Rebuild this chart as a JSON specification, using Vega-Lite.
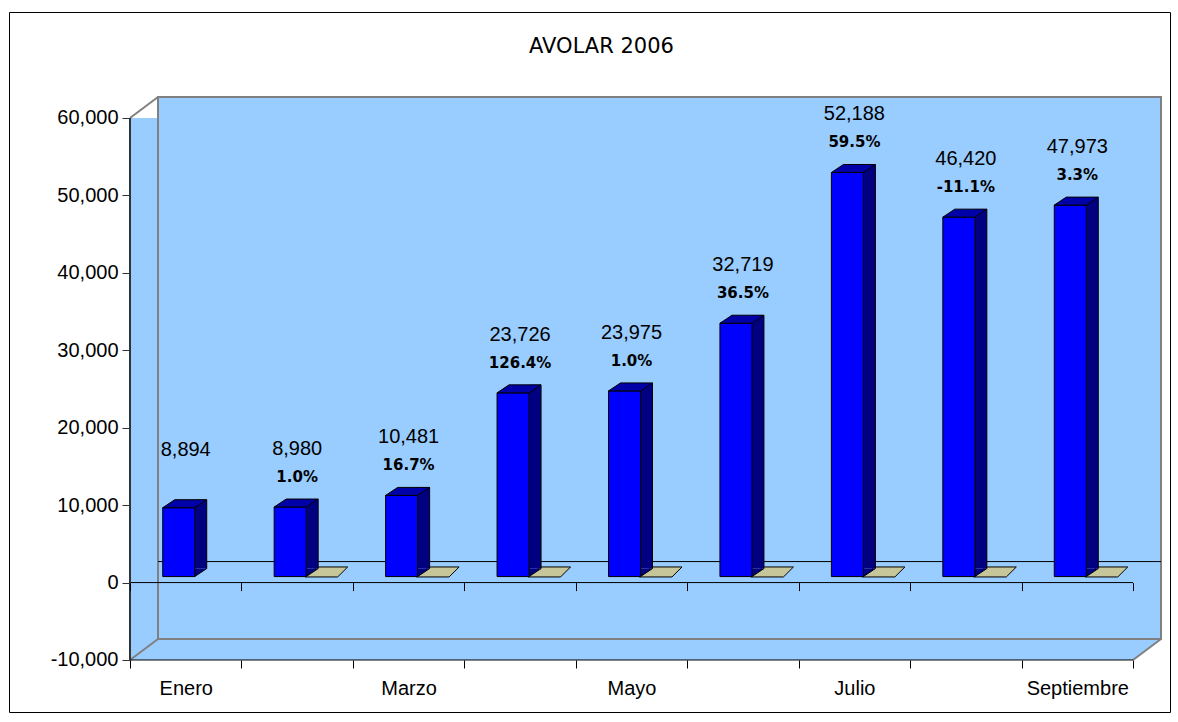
{
  "$schema": "https://vega.github.io/schema/vega-lite/v6.json",
  "width": 1161,
  "height": 700,
  "autosize": {"type": "none"},
  "padding": {"left": 9, "top": 12, "right": 8, "bottom": 10},
  "background": "#ffffff",
  "config": {
    "view": {"stroke": "#000000", "strokeWidth": 1},
    "locale": {"number": {"decimal": ".", "thousands": ",", "grouping": [3], "currency": ["$", ""], "minus": "-"}}
  },
  "title": {"text": "AVOLAR 2006", "anchor": "middle", "frame": "group", "offset": -56, "baseline": "middle", "font": "DejaVu Sans", "fontSize": 21, "fontWeight": "normal", "color": "#000000", "dx": 12},
  "data": {
    "values": [
      {"i": 1, "mes": "Enero", "v": 8894, "pct": null},
      {"i": 2, "mes": "Febrero", "v": 8980, "pct": 0.010},
      {"i": 3, "mes": "Marzo", "v": 10481, "pct": 0.167},
      {"i": 4, "mes": "Abril", "v": 23726, "pct": 1.264},
      {"i": 5, "mes": "Mayo", "v": 23975, "pct": 0.010},
      {"i": 6, "mes": "Junio", "v": 32719, "pct": 0.365},
      {"i": 7, "mes": "Julio", "v": 52188, "pct": 0.595},
      {"i": 8, "mes": "Agosto", "v": 46420, "pct": -0.111},
      {"i": 9, "mes": "Septiembre", "v": 47973, "pct": 0.033}
    ]
  },
  "resolve": {"axis": {"x": "independent", "y": "independent"}},
  "layer": [
    {
      "data": {"values": [{}]},
      "mark": {"type": "rect", "fill": "#99CCFF", "strokeWidth": 0},
      "encoding": {
        "x": {"datum": 0.5, "type": "quantitative", "scale": {"domain": [-0.5858, 9.832], "nice": false, "zero": false}, "axis": null},
        "x2": {"datum": 9.5},
        "y": {"datum": -10000, "type": "quantitative", "scale": {"domain": [-16716, 73690], "nice": false, "zero": false}, "axis": null},
        "y2": {"datum": 60000}
      }
    },
    {
      "data": {"values": [{}]},
      "mark": {"type": "point", "shape": "M 0 0 L 2 -1.5 L 0 -1.5 Z", "size": 784, "filled": true, "fill": "#99CCFF", "opacity": 1, "strokeWidth": 0},
      "encoding": {
        "x": {"datum": 9.5, "type": "quantitative", "scale": {"domain": [-0.5858, 9.832], "nice": false, "zero": false}, "axis": null},
        "y": {"datum": -10000, "type": "quantitative", "scale": {"domain": [-16716, 73690], "nice": false, "zero": false}, "axis": null}
      }
    },
    {
      "data": {"values": [{}]},
      "mark": {"type": "rect", "fill": "#99CCFF", "stroke": "#808080", "strokeWidth": 2, "xOffset": 28, "x2Offset": 28, "yOffset": -21, "y2Offset": -21},
      "encoding": {
        "x": {"datum": 0.5, "type": "quantitative", "scale": {"domain": [-0.5858, 9.832], "nice": false, "zero": false}, "axis": null},
        "x2": {"datum": 9.5},
        "y": {"datum": -10000, "type": "quantitative", "scale": {"domain": [-16716, 73690], "nice": false, "zero": false}, "axis": null},
        "y2": {"datum": 60000}
      }
    },
    {
      "data": {"values": [{}]},
      "mark": {"type": "rule", "stroke": "#808080", "strokeWidth": 2, "x2Offset": 28, "y2Offset": -21},
      "encoding": {
        "x": {"datum": 0.5, "type": "quantitative", "scale": {"domain": [-0.5858, 9.832], "nice": false, "zero": false}, "axis": null},
        "x2": {"datum": 0.5},
        "y": {"datum": 60000, "type": "quantitative", "scale": {"domain": [-16716, 73690], "nice": false, "zero": false}, "axis": null},
        "y2": {"datum": 60000}
      }
    },
    {
      "data": {"values": [{}]},
      "mark": {"type": "rule", "stroke": "#808080", "strokeWidth": 2, "x2Offset": 28, "y2Offset": -21},
      "encoding": {
        "x": {"datum": 0.5, "type": "quantitative", "scale": {"domain": [-0.5858, 9.832], "nice": false, "zero": false}, "axis": null},
        "x2": {"datum": 0.5},
        "y": {"datum": -10000, "type": "quantitative", "scale": {"domain": [-16716, 73690], "nice": false, "zero": false}, "axis": null},
        "y2": {"datum": -10000}
      }
    },
    {
      "data": {"values": [{}]},
      "mark": {"type": "rule", "stroke": "#808080", "strokeWidth": 2, "x2Offset": 28, "y2Offset": -21},
      "encoding": {
        "x": {"datum": 9.5, "type": "quantitative", "scale": {"domain": [-0.5858, 9.832], "nice": false, "zero": false}, "axis": null},
        "x2": {"datum": 9.5},
        "y": {"datum": -10000, "type": "quantitative", "scale": {"domain": [-16716, 73690], "nice": false, "zero": false}, "axis": null},
        "y2": {"datum": -10000}
      }
    },
    {
      "data": {"values": [{}]},
      "mark": {"type": "rule", "stroke": "#000000", "strokeWidth": 1, "xOffset": 28, "x2Offset": 28, "yOffset": -21},
      "encoding": {
        "x": {"datum": 0.5, "type": "quantitative", "scale": {"domain": [-0.5858, 9.832], "nice": false, "zero": false}, "axis": null},
        "x2": {"datum": 9.5},
        "y": {"datum": 0, "type": "quantitative", "scale": {"domain": [-16716, 73690], "nice": false, "zero": false}, "axis": null}
      }
    },
    {
      "data": {"values": [{}]},
      "mark": {"type": "rule", "stroke": "#000000", "strokeWidth": 1},
      "encoding": {
        "x": {"datum": 0.5, "type": "quantitative", "scale": {"domain": [-0.5858, 9.832], "nice": false, "zero": false}, "axis": null},
        "x2": {"datum": 9.5},
        "y": {"datum": 0, "type": "quantitative", "scale": {"domain": [-16716, 73690], "nice": false, "zero": false}, "axis": null}
      }
    },
    {
      "data": {"values": [{}]},
      "mark": {"type": "rule", "stroke": "#000000", "strokeWidth": 1},
      "encoding": {
        "x": {"datum": 0.5, "type": "quantitative", "scale": {"domain": [-0.5858, 9.832], "nice": false, "zero": false}, "axis": null},
        "x2": {"datum": 9.5},
        "y": {"datum": -10000, "type": "quantitative", "scale": {"domain": [-16716, 73690], "nice": false, "zero": false}, "axis": null}
      }
    },
    {
      "data": {"values": [{}]},
      "mark": {"type": "rule", "stroke": "#333333", "strokeWidth": 2},
      "encoding": {
        "x": {"datum": 0.5, "type": "quantitative", "scale": {"domain": [-0.5858, 9.832], "nice": false, "zero": false}, "axis": null},
        "y": {"datum": -10000, "type": "quantitative", "scale": {"domain": [-16716, 73690], "nice": false, "zero": false}, "axis": null},
        "y2": {"datum": 60000}
      }
    },
    {
      "transform": [{"filter": "isValid(datum.pct)"}],
      "mark": {"type": "point", "shape": "M -1 0.235 L 0.529 0.235 L 1 -0.235 L -0.435 -0.235 Z", "size": 1806, "filled": true, "fill": "#C6C69A", "stroke": "#000000", "strokeWidth": 1, "opacity": 1, "xOffset": 29.25, "yOffset": -10.6},
      "encoding": {
        "x": {"field": "i", "type": "quantitative", "scale": {"domain": [-0.5858, 9.832], "nice": false, "zero": false}, "axis": null},
        "y": {"field": "pct", "type": "quantitative", "scale": {"domain": [-16716, 73690], "nice": false, "zero": false}, "axis": null}
      }
    },
    {
      "mark": {"type": "rect", "fill": "#000080", "strokeWidth": 0, "xOffset": 9, "x2Offset": 21, "yOffset": -14, "y2Offset": -14},
      "encoding": {
        "x": {"field": "i", "type": "quantitative", "scale": {"domain": [-0.5858, 9.832], "nice": false, "zero": false},
          "axis": {"orient": "bottom", "offset": -129.4, "zindex": 1, "values": [0.5, 1.5, 2.5, 3.5, 4.5, 5.5, 6.5, 7.5, 8.5, 9.5], "labels": false, "domain": false, "grid": false, "tickSize": 8, "tickColor": "#000000", "tickWidth": 1, "title": null}},
        "x2": {"field": "i"},
        "y": {"field": "v", "type": "quantitative", "scale": {"domain": [-16716, 73690], "nice": false, "zero": false},
          "axis": {"orient": "left", "offset": -121, "zindex": 1, "values": [-10000, 0, 10000, 20000, 30000, 40000, 50000, 60000], "format": ",.0f", "title": null, "domain": false, "grid": false, "tickSize": 8, "tickColor": "#333333", "tickWidth": 1, "labelFont": "Liberation Sans", "labelFontSize": 20, "labelColor": "#000000", "labelPadding": 4}},
        "y2": {"datum": 0}
      }
    },
    {
      "mark": {"type": "point", "shape": "M -1 -0.667 L -1 0.667 L 1 -0.667", "size": 144, "filled": true, "fill": "#000080", "stroke": "#000000", "strokeWidth": 1, "opacity": 1, "xOffset": 15, "yOffset": -10},
      "encoding": {
        "x": {"field": "i", "type": "quantitative", "scale": {"domain": [-0.5858, 9.832], "nice": false, "zero": false}, "axis": null},
        "y": {"datum": 0, "type": "quantitative", "scale": {"domain": [-16716, 73690], "nice": false, "zero": false}, "axis": null}
      }
    },
    {
      "mark": {"type": "rule", "stroke": "#000000", "strokeWidth": 1, "xOffset": 21, "yOffset": -14, "y2Offset": -14},
      "encoding": {
        "x": {"field": "i", "type": "quantitative", "scale": {"domain": [-0.5858, 9.832], "nice": false, "zero": false}, "axis": null},
        "y": {"field": "v", "type": "quantitative", "scale": {"domain": [-16716, 73690], "nice": false, "zero": false}, "axis": null},
        "y2": {"datum": 0}
      }
    },
    {
      "mark": {"type": "rect", "fill": "#0000FF", "stroke": "#000000", "strokeWidth": 1, "xOffset": -23, "x2Offset": 9, "yOffset": -6, "y2Offset": -6},
      "encoding": {
        "x": {"field": "i", "type": "quantitative", "scale": {"domain": [-0.5858, 9.832], "nice": false, "zero": false}, "axis": null},
        "x2": {"field": "i"},
        "y": {"field": "v", "type": "quantitative", "scale": {"domain": [-16716, 73690], "nice": false, "zero": false}, "axis": null},
        "y2": {"datum": 0}
      }
    },
    {
      "mark": {"type": "point", "shape": "M -1 0.1818 L 0.4545 0.1818 L 1 -0.1818 L -0.4545 -0.1818 Z", "size": 1936, "filled": true, "fill": "#0000A8", "stroke": "#000000", "strokeWidth": 1, "opacity": 1, "xOffset": -1, "yOffset": -10},
      "encoding": {
        "x": {"field": "i", "type": "quantitative", "scale": {"domain": [-0.5858, 9.832], "nice": false, "zero": false}, "axis": null},
        "y": {"field": "v", "type": "quantitative", "scale": {"domain": [-16716, 73690], "nice": false, "zero": false}, "axis": null}
      }
    },
    {
      "mark": {"type": "text", "font": "Liberation Sans", "fontSize": 20, "align": "center", "baseline": "middle", "dy": -64, "color": "#000000"},
      "encoding": {
        "x": {"field": "i", "type": "quantitative", "scale": {"domain": [-0.5858, 9.832], "nice": false, "zero": false},
          "axis": {"orient": "bottom", "offset": -52, "zindex": 1, "values": [1, 3, 5, 7, 9], "ticks": false, "tickSize": 0, "domain": false, "grid": false, "title": null, "labelFlush": false, "labelOverlap": false, "labelPadding": 18, "labelFont": "Liberation Sans", "labelFontSize": 20, "labelColor": "#000000",
            "labelExpr": "['', 'Enero', 'Febrero', 'Marzo', 'Abril', 'Mayo', 'Junio', 'Julio', 'Agosto', 'Septiembre'][datum.value]"}},
        "y": {"field": "v", "type": "quantitative", "scale": {"domain": [-16716, 73690], "nice": false, "zero": false}, "axis": null},
        "text": {"field": "v", "type": "quantitative", "format": ","}
      }
    },
    {
      "transform": [{"filter": "isValid(datum.pct)"}],
      "mark": {"type": "text", "font": "DejaVu Sans", "fontWeight": "bold", "fontSize": 15, "align": "center", "baseline": "middle", "dy": -36, "color": "#000000"},
      "encoding": {
        "x": {"field": "i", "type": "quantitative", "scale": {"domain": [-0.5858, 9.832], "nice": false, "zero": false},
          "axis": {"orient": "bottom", "offset": -52, "zindex": 1, "values": [0.5, 1.5, 2.5, 3.5, 4.5, 5.5, 6.5, 7.5, 8.5, 9.5], "labels": false, "domain": false, "grid": false, "tickSize": 8, "tickColor": "#000000", "tickWidth": 1, "title": null}},
        "y": {"field": "v", "type": "quantitative", "scale": {"domain": [-16716, 73690], "nice": false, "zero": false}, "axis": null},
        "text": {"field": "pct", "type": "quantitative", "format": ".1%"}
      }
    }
  ]
}
